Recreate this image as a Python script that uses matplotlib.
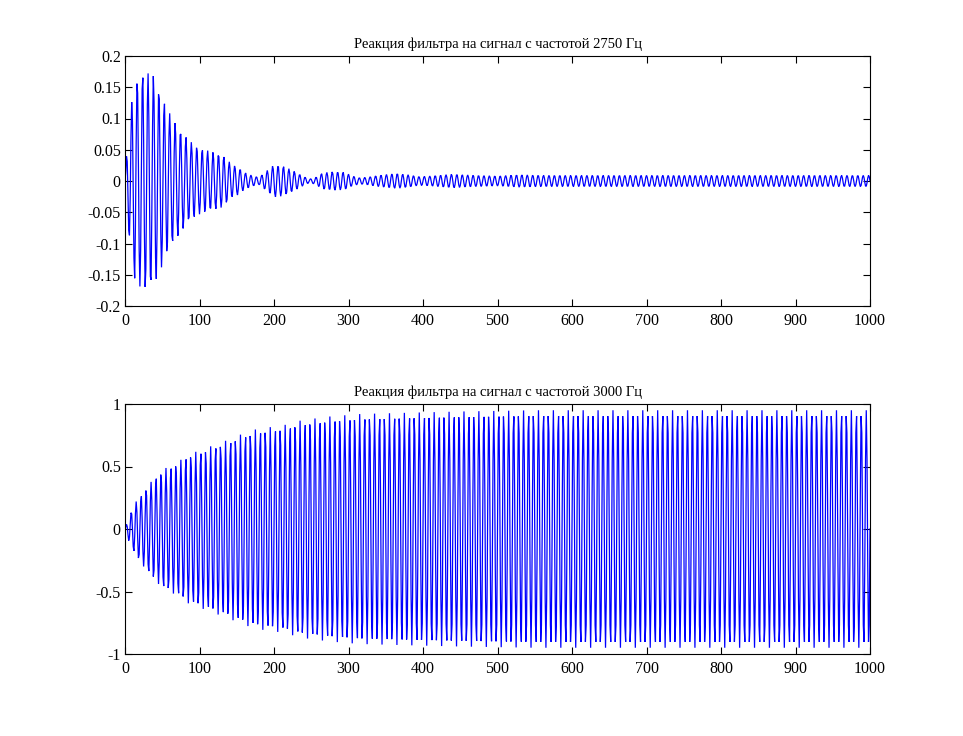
import numpy as np
import matplotlib
matplotlib.use("Agg")
import matplotlib.pyplot as plt
from matplotlib.ticker import FuncFormatter

plt.rcParams['font.family'] = ['Liberation Serif', 'DejaVu Serif']

# --- data ---
fs = 20000.0                    # sampling rate, Hz
n_samples = 1001
freq_top = 2750.0               # Hz (from title)
freq_bot = 3000.0               # Hz (from title)

# envelope of the top response: (sample index, amplitude)
env_top_n = [0, 3, 7, 13, 25, 38, 52, 58, 72, 85, 98, 113, 131, 143, 152, 160, 172, 180,
             190, 200, 212, 225, 237, 247, 255, 265, 280, 295, 305, 315, 325, 340, 355,
             365, 380, 395, 410, 440, 470, 500, 530, 560, 600, 700, 800, 900, 1000]
env_top_a = [0.0, 0.06, 0.11, 0.16, 0.175, 0.17, 0.13, 0.112, 0.086, 0.066, 0.054, 0.048,
             0.042, 0.027, 0.022, 0.014, 0.008, 0.006, 0.016, 0.026, 0.024, 0.017, 0.009,
             0.003, 0.005, 0.013, 0.015, 0.014, 0.008, 0.005, 0.006, 0.009, 0.011, 0.012,
             0.010, 0.007, 0.008, 0.011, 0.009, 0.008, 0.010, 0.009, 0.009, 0.009, 0.009,
             0.009, 0.009]

# envelope of the bottom response: (sample index, amplitude)
env_bot_n = [0, 3, 7, 15, 25, 38, 52, 63, 72, 83, 96, 110, 123, 137, 159, 177, 213, 237,
             275, 316, 380, 450, 550, 700, 850, 1000]
env_bot_a = [0.0, 0.06, 0.125, 0.22, 0.30, 0.40, 0.48, 0.51, 0.54, 0.59, 0.62, 0.65, 0.68,
             0.71, 0.765, 0.80, 0.83, 0.87, 0.90, 0.92, 0.93, 0.94, 0.95, 0.95, 0.95, 0.95]

top_title = "Реакция фильтра на сигнал с частотой 2750 Гц"
bot_title = "Реакция фильтра на сигнал с частотой 3000 Гц"
xticks = list(range(0, 1001, 100))
top_yticks = [-0.2, -0.15, -0.1, -0.05, 0, 0.05, 0.1, 0.15, 0.2]
bot_yticks = [-1, -0.5, 0, 0.5, 1]

n = np.arange(n_samples)
y_top = np.interp(n, env_top_n, env_top_a) * np.sin(2 * np.pi * freq_top / fs * n)
y_bot = np.interp(n, env_bot_n, env_bot_a) * np.sin(2 * np.pi * freq_bot / fs * n)

fig = plt.figure(figsize=(9.63, 7.36), dpi=100)
W, H = 963.0, 736.0
ax1 = fig.add_axes([125 / W, (H - 306) / H, 745 / W, 250 / H])
ax2 = fig.add_axes([125 / W, (H - 654) / H, 745 / W, 250 / H])

fmt = FuncFormatter(lambda v, p: ('%g' % round(v, 4)).replace('\u2212', '-'))

for ax, y, title, yt, ylim in [(ax1, y_top, top_title, top_yticks, (-0.2, 0.2)),
                               (ax2, y_bot, bot_title, bot_yticks, (-1, 1))]:
    ax.plot(n, y, color=(0, 0, 1), linewidth=0.9, solid_joinstyle='miter')
    ax.set_xlim(0, 1000)
    ax.set_ylim(*ylim)
    ax.set_xticks(xticks)
    ax.set_yticks(yt)
    ax.yaxis.set_major_formatter(fmt)
    ax.xaxis.set_major_formatter(fmt)
    ax.tick_params(direction='in', length=5, width=0.8, top=True, right=True,
                   labelsize=11.5, colors='black')
    ax.tick_params(axis='x', pad=5)
    ax.tick_params(axis='y', pad=3)
    for s in ax.spines.values():
        s.set_linewidth(0.8)
    ax.set_title(title, fontsize=10.5, pad=6)

fig.savefig("out.png", dpi=100, facecolor='white')
